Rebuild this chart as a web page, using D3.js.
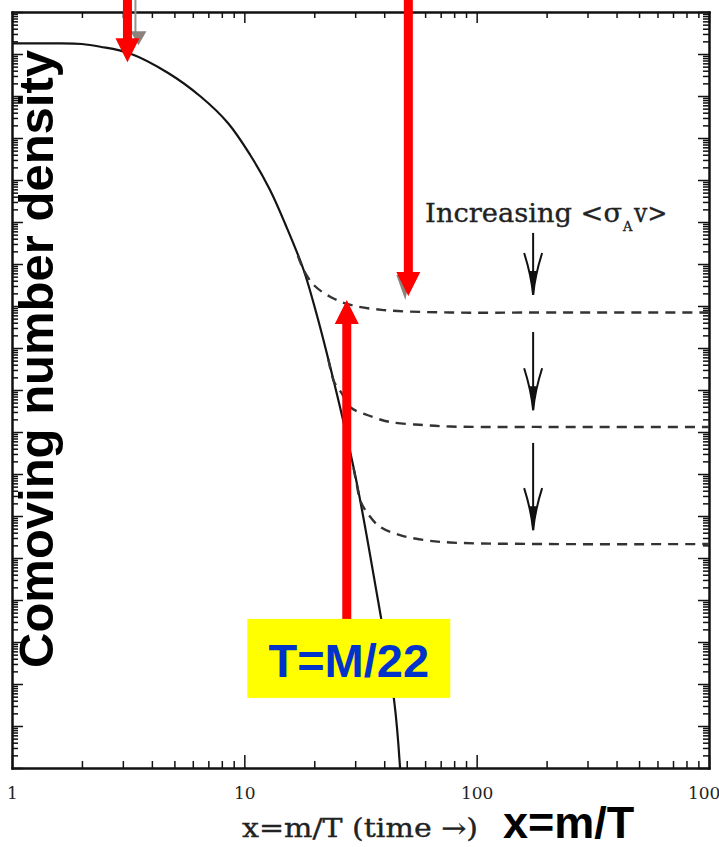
<!DOCTYPE html>
<html>
<head>
<meta charset="utf-8">
<script src="https://cdn.jsdelivr.net/npm/d3@7"></script>
<style>
  html, body { margin: 0; padding: 0; background: #fff; overflow: hidden; }
  svg { display: block; }
</style>
</head>
<body>
<svg id="chart" width="719" height="847"></svg>
<script>
// Comoving number density Y versus x = m/T.
// Solid: equilibrium abundance; dashed: frozen-out relic abundance for three cross sections.
const eqX = [1, 1.5, 2, 2.4, 3.2, 4.7, 6.5, 8.5, 10.6, 12.9, 15.0, 18, 20.6, 23.6, 26.4, 30.7, 36.1, 44.1, 46.8];
const eqY = [1.80e-3, 1.79e-3, 1.73e-3, 1.49e-3, 1.04e-3, 3.53e-4, 9.6e-5, 2.28e-5, 3.94e-6, 5.8e-7, 8.96e-8,
             7.2e-9, 5.6e-10, 3.0e-11, 2.3e-12, 5.0e-14, 3.6e-16, 4.2e-19, 1.0e-20];

const weakX = [17, 18, 19.9, 23.5, 28.7, 39.8, 77, 200, 1000];
const weakY = [1.58e-8, 7.2e-9, 3.16e-9, 1.64e-9, 1.06e-9, 8.0e-10, 7.0e-10, 7.0e-10, 7.0e-10];

const midX = [23, 24.3, 26.2, 28.5, 33.8, 42.4, 58.8, 76.8, 200, 1000];
const midY = [5.4e-11, 1.6e-11, 8.5e-12, 3.94e-12, 2.54e-12, 1.73e-12, 1.47e-12, 1.35e-12, 1.32e-12, 1.32e-12];

const strongX = [29.5, 30.5, 31.5, 33.8, 38.4, 46.8, 58.8, 76.8, 200, 1000];
const strongY = [1.4e-13, 5.5e-14, 2.4e-14, 1.18e-14, 5.5e-15, 3.5e-15, 2.7e-15, 2.34e-15, 2.15e-15, 2.15e-15];

const xTickValues = [1, 10, 100, 1000];
const xTickLabels = ["1", "10", "100", "1000"];

// "Increasing <σ_A v>" arrows: x position and [start, tip] abundances
const sigmaArrowX = 175;
const sigmaArrowSpans = [[5.5e-8, 1.83e-9], [2.4e-10, 3.3e-12], [5.5e-13, 4.6e-15]];
const sigmaLabelAt = [60, 1e-7];

// Red pointers: [x, tip abundance, tail abundance]
const pointerDownA = [3.14, 6.4e-4, 1e-1];
const pointerDownB = [50.8, 1.73e-9, 1e-1];
const pointerUpC   = [27.6, 1.39e-9, 3.55e-17];

const x = d3.scaleLog().domain([1, 1000]).range([12, 709]);
const y = d3.scaleLog().domain([1e-20, 1e-2]).range([768, 12]);

const svg = d3.select("#chart");

// ---- axes (ticks inward on all four sides) ----
const xMinor = [];
[1, 10, 100].forEach(d => { for (let m = 2; m <= 9; m++) xMinor.push(m * d); });
const yMajor = d3.range(-20, -1).map(k => Math.pow(10, k));
const yMinor = [];
d3.range(-20, -2).forEach(k => { for (let m = 2; m <= 9; m++) yMinor.push(m * Math.pow(10, k)); });

function frameAxis(axis, tx, ty, values, size) {
  const g = svg.append("g")
    .attr("transform", `translate(${tx},${ty})`)
    .call(axis.tickValues(values).tickSizeInner(-size).tickSizeOuter(0).tickFormat(""));
  g.select(".domain").attr("stroke", "#111").attr("stroke-width", 2).attr("stroke-linecap", "square");
  g.selectAll(".tick line").attr("stroke", "#111").attr("stroke-width", 1.5);
  return g;
}

frameAxis(d3.axisBottom(x), 0, 768, xMinor, 7);
frameAxis(d3.axisTop(x), 0, 12, xMinor, 6);
frameAxis(d3.axisTop(x), 0, 12, xTickValues, 11);
frameAxis(d3.axisLeft(y), 12, 0, yMinor, 6);
frameAxis(d3.axisLeft(y), 12, 0, yMajor, 11);
frameAxis(d3.axisRight(y), 709, 0, yMinor, 6);
frameAxis(d3.axisRight(y), 709, 0, yMajor, 11);

const bottomMajor = svg.append("g")
  .attr("transform", "translate(0,768)")
  .call(d3.axisBottom(x).tickValues(xTickValues).tickSizeInner(-13).tickSizeOuter(0)
        .tickFormat((d, i) => xTickLabels[i]));
bottomMajor.select(".domain").attr("stroke", "#111").attr("stroke-width", 2).attr("stroke-linecap", "square");
bottomMajor.selectAll(".tick line").attr("stroke", "#111").attr("stroke-width", 1.5);
bottomMajor.selectAll(".tick text")
  .attr("dy", null).attr("y", 31)
  .attr("fill", "#222")
  .style("font-family", "'DejaVu Serif', serif")
  .style("font-size", "17px");

// ---- curves ----
const line = d3.line().x(d => x(d[0])).y(d => y(d[1])).curve(d3.curveCatmullRom.alpha(0.5));
const zip = (a, b) => a.map((v, i) => [v, b[i]]);

svg.append("path").datum(zip(eqX, eqY))
  .attr("d", line).attr("fill", "none")
  .attr("stroke", "#141414").attr("stroke-width", 2.2);

[[weakX, weakY], [midX, midY], [strongX, strongY]].forEach(([xs, ys]) => {
  svg.append("path").datum(zip(xs, ys))
    .attr("d", line).attr("fill", "none")
    .attr("stroke", "#333").attr("stroke-width", 2.4)
    .attr("stroke-dasharray", "10,7");
});

// ---- "Increasing <σA v>" annotation ----
sigmaArrowSpans.forEach(([y0, y1]) => {
  const ax = x(sigmaArrowX), top = y(y0), tip = y(y1);
  const g = svg.append("g").attr("fill", "none").attr("stroke", "#111").attr("stroke-width", 2);
  g.append("line").attr("x1", ax).attr("x2", ax).attr("y1", top).attr("y2", tip);
  g.append("path")
    .attr("d", `M${ax - 9},${tip - 42} Q${ax - 2},${tip - 20} ${ax},${tip}` +
               ` M${ax + 9},${tip - 42} Q${ax + 2},${tip - 20} ${ax},${tip}`);
  g.append("path").attr("fill", "#111").attr("stroke", "none")
    .attr("d", `M${ax - 3.5},${tip - 24} L${ax + 3.5},${tip - 24} L${ax},${tip} Z`);
});

const lx = x(sigmaLabelAt[0]), ly = y(sigmaLabelAt[1]);
const serif = "'DejaVu Serif', serif";
function serifText(tx, ty, size, len, str) {
  const t = svg.append("text").attr("x", tx).attr("y", ty)
    .style("font-family", serif).style("font-size", size + "px")
    .attr("fill", "#222").attr("stroke", "#222").attr("stroke-width", 0.35)
    .text(str);
  if (len) t.attr("textLength", len).attr("lengthAdjust", "spacingAndGlyphs");
  return t;
}
serifText(lx, ly, 26, 197, "Increasing <σ");
serifText(lx + 198, ly + 9, 13, null, "A");
serifText(lx + 209, ly, 26, 33, "v>");

// ---- x-axis caption (serif) ----
serifText(242, 837, 26, 236, "x=m/T (time →)");

// ---- red pointers with soft grey shadows ----
function redArrow(px, tipY, tailY, dir) {
  // dir = +1 points down, -1 points up
  const headLen = 24, headHalf = 12, shaftHalf = 4.5;
  const base = tipY - dir * headLen;
  const pts = [
    [px - shaftHalf, tailY], [px - shaftHalf, base], [px - headHalf, base], [px, tipY],
    [px + headHalf, base], [px + shaftHalf, base], [px + shaftHalf, tailY]
  ];
  return "M" + pts.map(p => p.join(",")).join("L") + "Z";
}

const aX = x(pointerDownA[0]), aTip = y(pointerDownA[1]), aTail = y(pointerDownA[2]);
const bX = x(pointerDownB[0]), bTip = y(pointerDownB[1]), bTail = y(pointerDownB[2]);
const cX = x(pointerUpC[0]), cTip = y(pointerUpC[1]), cTail = y(pointerUpC[2]);

// shadows
svg.append("line").attr("x1", aX + 8).attr("x2", aX + 8).attr("y1", 0).attr("y2", aTip - 30)
  .attr("stroke", "#9a918a").attr("stroke-width", 2);
svg.append("path").attr("fill", "#8c8279")
  .attr("d", `M${aX + 3},${aTip - 31} L${aX + 19},${aTip - 31} L${aX + 11},${aTip - 17} Z`);
svg.append("path").attr("fill", "#8c8279")
  .attr("d", `M${bX - 12},${bTip - 21} L${bX + 2},${bTip - 21} L${bX - 3},${bTip + 4} Z`);

svg.append("path").attr("d", redArrow(aX, aTip, aTail, 1)).attr("fill", "#ff0000");
svg.append("path").attr("d", redArrow(bX, bTip, bTail, 1)).attr("fill", "#ff0000");
svg.append("path").attr("d", redArrow(cX, cTip, cTail, -1)).attr("fill", "#ff0000");

// ---- T=M/22 label box ----
const boxW = 203, boxH = 79;
svg.append("rect").attr("x", cX + 2 - boxW / 2).attr("y", cTail)
  .attr("width", boxW).attr("height", boxH).attr("fill", "#ffff00");
svg.append("text").attr("x", cX + 2).attr("y", cTail + 58)
  .attr("text-anchor", "middle")
  .style("font-family", "'Liberation Sans', Arial, sans-serif").style("font-weight", "bold")
  .style("font-size", "47px").attr("fill", "#0033cc")
  .text("T=M/22");

// ---- bold titles ----
svg.append("text")
  .attr("transform", "translate(53,359) rotate(-90)")
  .attr("text-anchor", "middle")
  .style("font-family", "'Liberation Sans', Arial, sans-serif").style("font-weight", "bold")
  .style("font-size", "49px").attr("fill", "#000")
  .text("Comoving number density");

svg.append("text").attr("x", 503).attr("y", 838)
  .style("font-family", "'Liberation Sans', Arial, sans-serif").style("font-weight", "bold")
  .style("font-size", "45px").attr("fill", "#000")
  .text("x=m/T");
</script>
</body>
</html>
